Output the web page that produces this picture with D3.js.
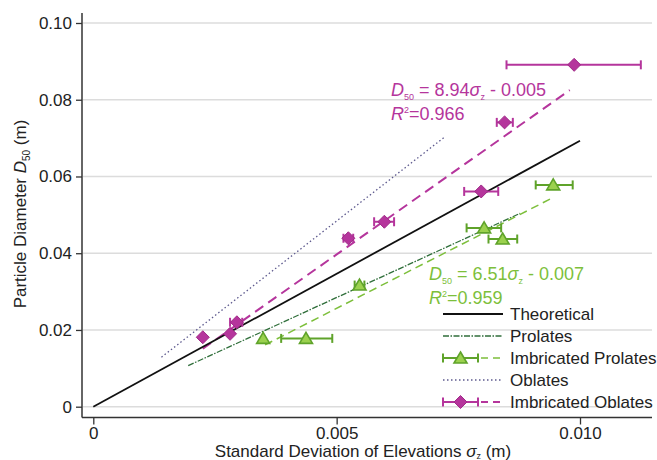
<!DOCTYPE html>
<html><head><meta charset="utf-8">
<script src="https://cdn.jsdelivr.net/npm/d3@7/dist/d3.min.js"></script>
<style>body{margin:0;background:#fff}svg{font-family:"Liberation Sans",Arial,sans-serif}</style>
</head><body><svg id="c" width="657" height="460"></svg>
<script>
// Data
const yTicks = [0, 0.02, 0.04, 0.06, 0.08, 0.10];
const yTickLabels = ["0", "0.02", "0.04", "0.06", "0.08", "0.10"];
const xTicks = [0, 0.005, 0.010];
const xTickLabels = ["0", "0.005", "0.010"];

// Imbricated oblates: sigma, D50, sigma low, sigma high
const oblSigma = [0.00225, 0.00281, 0.00295, 0.00524, 0.00598, 0.00797, 0.00845, 0.00988];
const oblD50   = [0.0181, 0.0190, 0.0220, 0.0439, 0.0482, 0.0561, 0.0741, 0.0891];
const oblLo    = [0.00225, 0.00281, 0.00281, 0.00514, 0.00577, 0.00762, 0.00829, 0.00849];
const oblHi    = [0.00225, 0.00281, 0.00306, 0.00534, 0.00618, 0.00832, 0.00862, 0.01125];

// Imbricated prolates
const proSigma = [0.00349, 0.00437, 0.00547, 0.00803, 0.00841, 0.00945];
const proD50   = [0.0178, 0.0178, 0.0317, 0.0466, 0.0437, 0.0578];
const proLo    = [0.00349, 0.00386, 0.00537, 0.00767, 0.00812, 0.00909];
const proHi    = [0.00349, 0.00491, 0.00557, 0.00838, 0.00871, 0.00985];

// Lines (endpoints)
const theoreticalLine = [[0, 0], [0.0100, 0.0693]];
const prolatesLine = [[0.00195, 0.0107], [0.00877, 0.0504]];
const imbProlatesFit = [[0.00353, 0.0161], [0.00946, 0.0546]];
const oblatesLine = [[0.00140, 0.0129], [0.00723, 0.0704]];
const imbOblatesFit = [[0.00225, 0.0151], [0.00979, 0.0825]];

const legendLabels = ["Theoretical", "Prolates", "Imbricated Prolates", "Oblates", "Imbricated Oblates"];

const MAG = "#B5359C", GRN = "#7DBF3B", GRN_D = "#5FA32A", DKG = "#2F6E3A", OBL = "#5E5A8E";

const svg = d3.select("#c");
const x = d3.scaleLinear().domain([0, 0.010]).range([93.3, 580]);
const y = d3.scaleLinear().domain([0, 0.10]).range([406.7, 23]);

// gridlines
svg.append("g").selectAll("line").data(yTicks).join("line")
  .attr("x1", 83).attr("x2", 652).attr("y1", d => y(d)).attr("y2", d => y(d))
  .attr("stroke", "#dcdcdc").attr("stroke-width", 1.5);

// y axis
const yAxis = d3.axisLeft(y).tickValues(yTicks).tickFormat((d, i) => yTickLabels[i]).tickSize(6).tickPadding(4);
const gy = svg.append("g").attr("transform", "translate(82,0)").call(yAxis);
gy.select(".domain").attr("d", "M0,13V417.5");
// x axis
const xAxis = d3.axisBottom(x).tickValues(xTicks).tickFormat((d, i) => xTickLabels[i]).tickSize(7).tickPadding(2);
const gx = svg.append("g").attr("transform", "translate(0,417.5)").call(xAxis);
gx.select(".domain").attr("d", "M82,0H652");
[gx, gy].forEach(g => {
  g.selectAll("text").attr("font-size", 17).attr("fill", "#222").attr("font-family", "Liberation Sans, Arial, sans-serif");
  g.selectAll("line").attr("stroke", "#333").attr("stroke-width", 1.3);
  g.select(".domain").attr("stroke", "#333").attr("stroke-width", 1.5);
});

// Axis titles
const xt = svg.append("text").attr("x", 363).attr("y", 456.5).attr("text-anchor", "middle")
  .attr("font-size", 17).attr("fill", "#222");
xt.append("tspan").text("Standard Deviation of Elevations ");
xt.append("tspan").attr("font-style", "italic").text("σ");
xt.append("tspan").attr("font-size", 9).attr("dy", 2).text("z");
xt.append("tspan").attr("dy", -2).text(" (m)");

const yt = svg.append("text").attr("transform", "translate(26,214) rotate(-90)").attr("text-anchor", "middle")
  .attr("font-size", 17).attr("fill", "#222");
yt.append("tspan").text("Particle Diameter ");
yt.append("tspan").attr("font-style", "italic").text("D");
yt.append("tspan").attr("font-size", 10).attr("dy", 4).text("50");
yt.append("tspan").attr("dy", -4).text(" (m)");

const line = d3.line().x(d => x(d[0])).y(d => y(d[1]));
function drawLine(pts, color, w, dash) {
  svg.append("path").attr("d", line(pts)).attr("fill", "none").attr("stroke", color)
    .attr("stroke-width", w).attr("stroke-dasharray", dash || null);
}
drawLine(oblatesLine, OBL, 1.3, "1.5,2.5");
drawLine(prolatesLine, DKG, 1.3, "6,1.5,1.5,1.5");
drawLine(imbProlatesFit, GRN, 1.5, "8,5");
drawLine(imbOblatesFit, MAG, 2, "10,6");
drawLine(theoreticalLine, "#111", 1.8);

// error bars
function errBar(g, xl, xh, yy, color) {
  if (xh - xl < 2) return;
  g.append("line").attr("x1", xl).attr("x2", xh).attr("y1", yy).attr("y2", yy).attr("stroke", color).attr("stroke-width", 2);
  g.append("line").attr("x1", xl).attr("x2", xl).attr("y1", yy - 4.5).attr("y2", yy + 4.5).attr("stroke", color).attr("stroke-width", 2);
  g.append("line").attr("x1", xh).attr("x2", xh).attr("y1", yy - 4.5).attr("y2", yy + 4.5).attr("stroke", color).attr("stroke-width", 2);
}
function drawDiamond(g, cx, cy) {
  g.append("path").attr("d", "M0,-6.5L6.5,0L0,6.5L-6.5,0Z").attr("transform", `translate(${cx},${cy})`)
    .attr("fill", MAG).attr("stroke", "#A02A88").attr("stroke-width", 1);
}
function drawTriangle(g, cx, cy) {
  g.append("path").attr("d", "M0,-6L6.5,5L-6.5,5Z").attr("transform", `translate(${cx},${cy})`)
    .attr("fill", "#9BD14E").attr("stroke", GRN_D).attr("stroke-width", 1.6);
}
const gp = svg.append("g");
proSigma.forEach((s, i) => errBar(gp, x(proLo[i]), x(proHi[i]), y(proD50[i]), GRN_D));
proSigma.forEach((s, i) => drawTriangle(gp, x(s), y(proD50[i])));
const go = svg.append("g");
oblSigma.forEach((s, i) => errBar(go, x(oblLo[i]), x(oblHi[i]), y(oblD50[i]), MAG));
oblSigma.forEach((s, i) => drawDiamond(go, x(s), y(oblD50[i])));

// Annotations
function eq(xp, yp, color, coef, icpt, r2) {
  const t = svg.append("text").attr("x", xp).attr("y", yp).attr("font-size", 18).attr("fill", color);
  t.append("tspan").attr("font-style", "italic").text("D");
  t.append("tspan").attr("font-size", 9).attr("dy", 4).text("50");
  t.append("tspan").attr("dy", -4).text(" = " + coef);
  t.append("tspan").attr("font-style", "italic").text("σ");
  t.append("tspan").attr("font-size", 9).attr("dy", 4).text("z");
  t.append("tspan").attr("dy", -4).text(" - " + icpt);
  const r = svg.append("text").attr("x", xp).attr("y", yp + 23.5).attr("font-size", 18).attr("fill", color);
  r.append("tspan").attr("font-style", "italic").text("R");
  r.append("tspan").attr("font-size", 9).attr("dy", -7).text("2");
  r.append("tspan").attr("dy", 7).text("=" + r2);
}
eq(391, 96, MAG, "8.94", "0.005", "0.966");
eq(429, 280, GRN, "6.51", "0.007", "0.959");

// Legend
const lg = svg.append("g");
const ly = i => 314 + i * 22;
lg.append("line").attr("x1", 443).attr("x2", 503).attr("y1", ly(0)).attr("y2", ly(0)).attr("stroke", "#111").attr("stroke-width", 1.8);
lg.append("line").attr("x1", 443).attr("x2", 503).attr("y1", ly(1)).attr("y2", ly(1)).attr("stroke", DKG).attr("stroke-width", 1.3).attr("stroke-dasharray", "6,1.5,1.5,1.5");
errBar(lg, 443, 478, ly(2), GRN_D);
drawTriangle(lg, 460.5, ly(2));
lg.append("line").attr("x1", 481).attr("x2", 503).attr("y1", ly(2)).attr("y2", ly(2)).attr("stroke", GRN).attr("stroke-width", 1.5).attr("stroke-dasharray", "7,5");
lg.append("line").attr("x1", 443).attr("x2", 503).attr("y1", ly(3)).attr("y2", ly(3)).attr("stroke", OBL).attr("stroke-width", 1.3).attr("stroke-dasharray", "1.5,2.5");
errBar(lg, 443, 478, ly(4), MAG);
drawDiamond(lg, 460.5, ly(4));
lg.append("line").attr("x1", 481).attr("x2", 503).attr("y1", ly(4)).attr("y2", ly(4)).attr("stroke", MAG).attr("stroke-width", 2).attr("stroke-dasharray", "7,5");
lg.selectAll("text.l").data(legendLabels).join("text").attr("class", "l")
  .attr("x", 510).attr("y", (d, i) => ly(i) + 6).attr("font-size", 17).attr("fill", "#222").text(d => d);
</script></body></html>
